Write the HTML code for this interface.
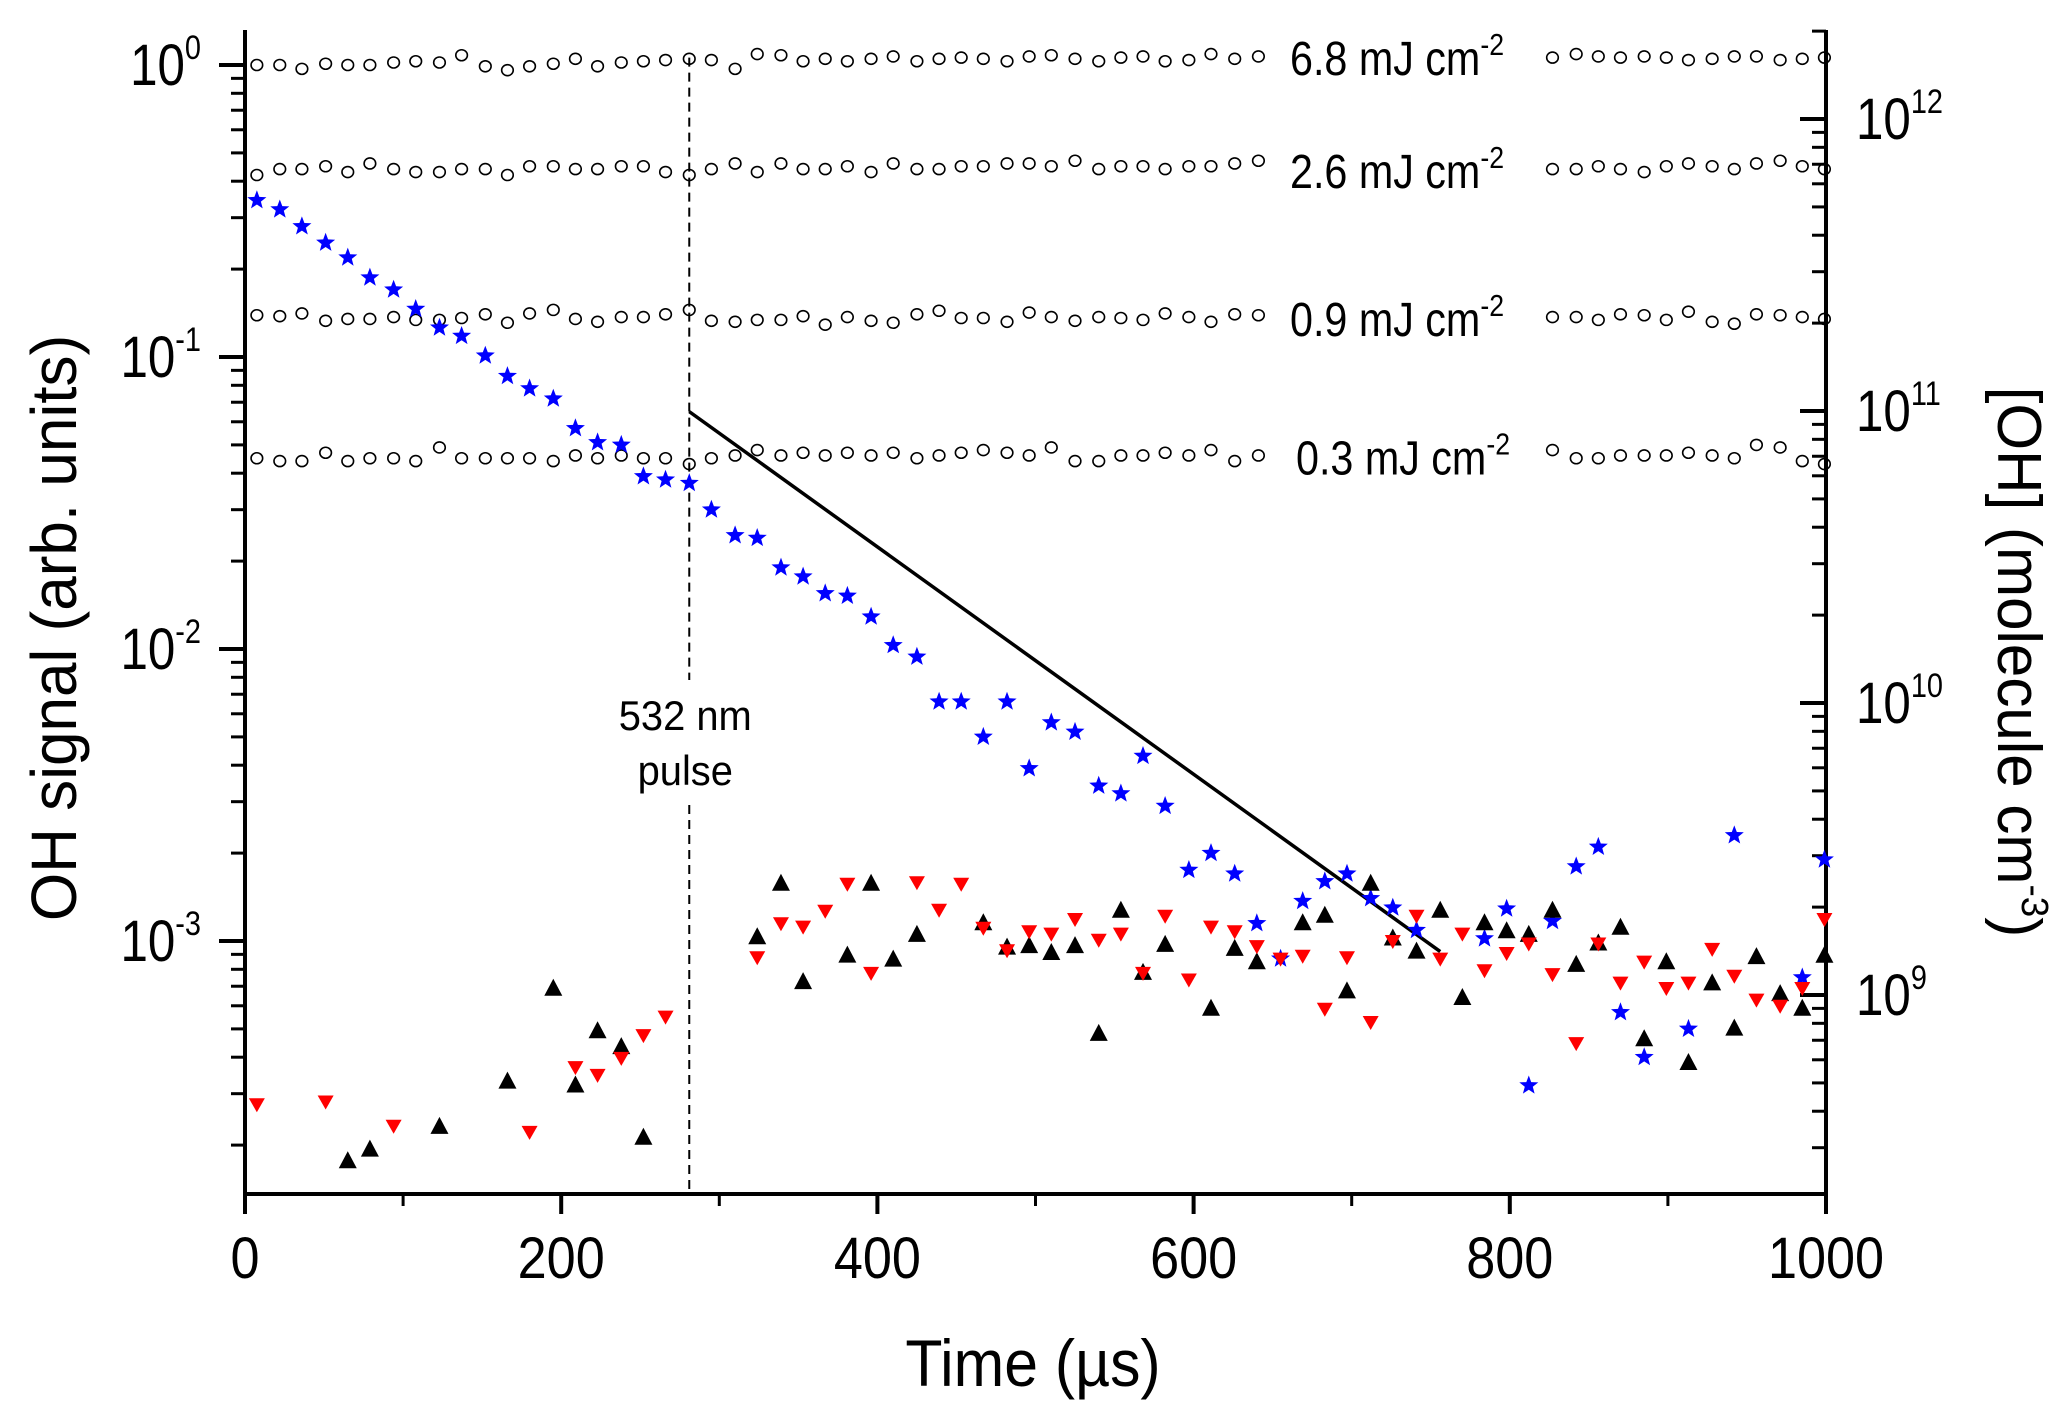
<!DOCTYPE html>
<html><head><meta charset="utf-8">
<style>
html,body{margin:0;padding:0;background:#fff;}
svg{display:block;font-family:"Liberation Sans",Arial,sans-serif;}
</style></head>
<body>
<svg id="chart" width="2067" height="1415" viewBox="0 0 2067 1415" xmlns="http://www.w3.org/2000/svg">
<g id="plot"></g>
</svg>
<script>
// ---- data ----
const xTicks = [0, 200, 400, 600, 800, 1000];
const xTickLabels = ["0", "200", "400", "600", "800", "1000"];
const leftDecades = [0, -1, -2, -3];
const rightDecades = [9, 10, 11, 12];
const rightOffset = 12.185; // log10 conversion factor between axes

const circleTimes = [7.5,22,36,51,65,79,94,108,123,137,152,166,180,195,209,223,238,252,266,281,295,310,324,339,353,367,381,396,410,425,439,453,467,482,496,510,525,540,554,568,582,597,611,626,641,827,842,856,870,885,899,913,928,942,956,971,985,999];
const pulse68 = [1.0,1.0,0.97,1.01,1.0,1.0,1.02,1.03,1.02,1.08,0.99,0.96,0.99,1.01,1.05,0.99,1.02,1.03,1.04,1.05,1.04,0.97,1.09,1.08,1.03,1.05,1.03,1.05,1.07,1.03,1.05,1.06,1.05,1.03,1.07,1.08,1.05,1.03,1.06,1.07,1.03,1.04,1.09,1.05,1.07,1.06,1.09,1.07,1.06,1.07,1.06,1.04,1.05,1.07,1.07,1.04,1.05,1.06];
const pulse26 = [0.42,0.44,0.44,0.45,0.43,0.46,0.44,0.43,0.43,0.44,0.44,0.42,0.45,0.45,0.44,0.44,0.45,0.45,0.43,0.42,0.44,0.46,0.43,0.46,0.44,0.44,0.45,0.43,0.46,0.44,0.44,0.45,0.45,0.46,0.46,0.45,0.47,0.44,0.45,0.45,0.44,0.45,0.45,0.46,0.47,0.44,0.44,0.45,0.44,0.43,0.45,0.46,0.45,0.44,0.46,0.47,0.45,0.44];
const pulse09 = [0.139,0.138,0.141,0.133,0.135,0.135,0.137,0.134,0.134,0.136,0.140,0.131,0.141,0.145,0.135,0.132,0.137,0.137,0.140,0.145,0.133,0.132,0.134,0.134,0.138,0.129,0.137,0.133,0.131,0.140,0.144,0.136,0.136,0.132,0.142,0.137,0.133,0.137,0.136,0.134,0.141,0.137,0.132,0.140,0.139,0.137,0.137,0.134,0.140,0.139,0.134,0.143,0.132,0.130,0.140,0.139,0.137,0.135];
const pulse03 = [0.045,0.044,0.044,0.047,0.044,0.045,0.045,0.044,0.049,0.045,0.045,0.045,0.045,0.044,0.046,0.045,0.046,0.045,0.045,0.043,0.045,0.046,0.048,0.046,0.047,0.046,0.047,0.046,0.047,0.045,0.046,0.047,0.048,0.047,0.046,0.049,0.044,0.044,0.046,0.046,0.047,0.046,0.048,0.044,0.046,0.048,0.045,0.045,0.046,0.046,0.046,0.047,0.046,0.045,0.050,0.049,0.044,0.043];

const starTimes = [7.5,22,36,51,65,79,94,108,123,137,152,166,180,195,209,223,238,252,266,281,295,310,324,339,353,367,381,396,410,425,439,453,467,482,496,510,525,540,554,568,582,597,611,626,640,655,669,683,697,712,726,741,784,798,812,827,842,856,870,885,913,942,985,999];
const starValues = [0.344,0.32,0.28,0.246,0.219,0.187,0.17,0.146,0.126,0.118,0.101,0.086,0.078,0.072,0.057,0.051,0.05,0.039,0.038,0.037,0.030,0.0245,0.024,0.019,0.0177,0.0155,0.0152,0.0129,0.0103,0.0094,0.0066,0.0066,0.005,0.0066,0.0039,0.0056,0.0052,0.0034,0.0032,0.0043,0.0029,0.00175,0.0020,0.0017,0.00115,0.00087,0.00137,0.0016,0.0017,0.0014,0.0013,0.00109,0.00102,0.00129,0.00032,0.00117,0.0018,0.0021,0.00057,0.0004,0.0005,0.0023,0.00075,0.0019];

const upTimes = [65,79,123,166,195,209,223,238,252,324,339,353,381,396,410,425,467,482,496,510,525,540,554,568,582,611,626,640,669,683,697,712,726,741,756,770,784,798,812,827,842,856,870,885,899,913,928,942,956,971,985,999];
const upValues = [1.76e-4,1.93e-4,2.31e-4,3.30e-4,6.86e-4,3.20e-4,4.91e-4,4.33e-4,2.12e-4,1.03e-3,1.57e-3,7.23e-4,8.91e-4,1.57e-3,8.63e-4,1.05e-3,1.15e-3,9.49e-4,9.6e-4,9.1e-4,9.6e-4,4.81e-4,1.27e-3,7.78e-4,9.7e-4,5.86e-4,9.4e-4,8.46e-4,1.15e-3,1.22e-3,6.72e-4,1.57e-3,1.02e-3,9.2e-4,1.27e-3,6.38e-4,1.15e-3,1.08e-3,1.05e-3,1.27e-3,8.28e-4,9.8e-4,1.11e-3,4.61e-4,8.46e-4,3.82e-4,7.16e-4,5.01e-4,8.81e-4,6.58e-4,5.86e-4,8.9e-4];

const downTimes = [7.5,51,94,180,209,223,238,252,266,324,339,353,367,381,396,425,439,453,467,482,496,510,525,540,554,568,582,597,611,626,640,655,669,683,697,712,726,741,756,770,784,798,812,827,842,856,870,885,899,913,928,942,956,971,985,999];
const downValues = [2.76e-4,2.82e-4,2.33e-4,2.22e-4,3.70e-4,3.48e-4,3.98e-4,4.76e-4,5.51e-4,8.8e-4,1.15e-3,1.12e-3,1.27e-3,1.57e-3,7.78e-4,1.59e-3,1.28e-3,1.57e-3,1.11e-3,9.3e-4,1.08e-3,1.06e-3,1.19e-3,1.01e-3,1.06e-3,7.78e-4,1.22e-3,7.38e-4,1.12e-3,1.08e-3,9.6e-4,8.7e-4,8.9e-4,5.86e-4,8.8e-4,5.28e-4,1.0e-3,1.22e-3,8.7e-4,1.06e-3,7.94e-4,9.1e-4,9.8e-4,7.7e-4,4.47e-4,9.8e-4,7.2e-4,8.5e-4,6.9e-4,7.2e-4,9.4e-4,7.6e-4,6.3e-4,6.0e-4,6.9e-4,1.19e-3];

const fitTimes = [281, 756];
const fitValues = [0.065, 0.00092];
const pulseTime = 281;
const energyLabels = ["6.8", "2.6", "0.9", "0.3"];
const energyLevels = [1.0, 0.44, 0.137, 0.046];

// ---- scales ----
const X0 = 245, X1 = 1826, Y0 = 1194, YTOP = 30;
const xs = t => X0 + (t / 1000) * (X1 - X0);
const ys = v => 65 - 292 * Math.log10(v);
const ysR = v => 65 - 292 * (Math.log10(v) - rightOffset);

const NS = "http://www.w3.org/2000/svg";
const plot = document.getElementById("plot");
function mk(tag, attrs, parent) {
  const e = document.createElementNS(NS, tag);
  for (const k in attrs) e.setAttribute(k, attrs[k]);
  (parent || plot).appendChild(e);
  return e;
}
function txt(x, y, anchor, size, sx, html, rot) {
  const tr = "translate(" + x + "," + y + ")" + (rot ? " rotate(" + rot + ")" : "") + " scale(" + sx + ",1)";
  const e = mk("text", {x: 0, y: 0, "text-anchor": anchor, "font-size": size, transform: tr});
  e.innerHTML = html;
  return e;
}

// axes
let a;
a = mk("line", {x1: X0, y1: YTOP, x2: X0, y2: Y0 + 2, stroke: "#000", "stroke-width": 4});


a = mk("line", {x1: X1, y1: YTOP, x2: X1, y2: Y0 + 2, stroke: "#000", "stroke-width": 4});


a = mk("line", {x1: X0 - 2, y1: Y0, x2: X1 + 2, y2: Y0, stroke: "#000", "stroke-width": 4});



// x ticks
xTicks.forEach((t, i) => {
  const tk = mk("line", {x1: xs(t), y1: Y0, x2: xs(t), y2: Y0 + 20, stroke: "#000", "stroke-width": 4});
  
  
  const lb = txt(xs(t), Y0 + 84, "middle", 58, 0.9, xTickLabels[i]);
  
  
  if (i < xTicks.length - 1) {
    const mt = mk("line", {x1: xs(t + 100), y1: Y0, x2: xs(t + 100), y2: Y0 + 12, stroke: "#000", "stroke-width": 3});
    
    
  }
});

// left ticks
for (let d = -4; d <= 0; d++) {
  for (let m = 1; m <= 9; m++) {
    const v = m * Math.pow(10, d);
    const y = ys(v);
    if (y > Y0 || y < YTOP) continue;
    const major = m === 1;
    const tk = mk("line", {x1: X0 - (major ? 26 : 14), y1: y, x2: X0, y2: y, stroke: "#000", "stroke-width": major ? 4 : 3});
    
    
  }
}
leftDecades.forEach(d => {
  const lb = txt(X0 - 44, ys(Math.pow(10, d)) + 20, "end", 58, 0.85, '10<tspan dy="-26" font-size="34">' + d + '</tspan>');
  
  
});

// right ticks
for (let d = 8; d <= 12; d++) {
  for (let m = 1; m <= 9; m++) {
    const v = m * Math.pow(10, d);
    const y = ysR(v);
    if (y > Y0 || y < YTOP) continue;
    const major = m === 1;
    const tk = mk("line", {x1: X1 - (major ? 26 : 14), y1: y, x2: X1, y2: y, stroke: "#000", "stroke-width": major ? 4 : 3});
    
    
  }
}
rightDecades.forEach(d => {
  const lb = txt(X1 + 30, ysR(Math.pow(10, d)) + 20, "start", 58, 0.85, '10<tspan dy="-26" font-size="34">' + d + '</tspan>');
  
  
});

// pulse dashed line
const px = xs(pulseTime);
let dl = mk("line", {x1: px, y1: ys(1.06), x2: px, y2: 680, stroke: "#000", "stroke-width": 2, "stroke-dasharray": "9,6"});


dl = mk("line", {x1: px, y1: 805, x2: px, y2: Y0, stroke: "#000", "stroke-width": 2, "stroke-dasharray": "9,6"});


let pt = txt(px - 4, 730, "middle", 42, 0.95, "532 nm");


pt = txt(px - 4, 785, "middle", 42, 0.95, "pulse");



// circle series
[pulse68, pulse26, pulse09, pulse03].forEach((series, si) => {
  series.forEach((v, i) => {
    const c = mk("ellipse", {cx: xs(circleTimes[i]), cy: ys(v), rx: 5.8, ry: 5.5, fill: "none", stroke: "#000", "stroke-width": 1.6});
    
    
  });
  const lb = txt(si === 3 ? 1296 : 1290, ys(energyLevels[si]) + (si === 0 ? 10 : 19), "start", 48, 0.86, energyLabels[si] + ' mJ cm<tspan dy="-20" font-size="31">-2</tspan>');
  
  
});

// fit line
const fl = mk("line", {x1: xs(fitTimes[0]), y1: ys(fitValues[0]), x2: xs(fitTimes[1]), y2: ys(fitValues[1]), stroke: "#000", "stroke-width": 3.5});



// stars
function starPath(cx, cy, R) {
  const r = R * 0.42; let d = "";
  for (let k = 0; k < 10; k++) {
    const ang = -Math.PI / 2 + k * Math.PI / 5;
    const rr = k % 2 ? r : R;
    d += (k ? "L" : "M") + (cx + rr * Math.cos(ang)).toFixed(1) + "," + (cy + rr * Math.sin(ang)).toFixed(1);
  }
  return d + "Z";
}
starValues.forEach((v, i) => {
  const s = mk("path", {d: starPath(xs(starTimes[i]), ys(v), 10), fill: "#0000ff"});
  
  
});
// triangles up (black)
upValues.forEach((v, i) => {
  const x = xs(upTimes[i]), y = ys(v);
  const s = mk("path", {d: `M${x},${y - 10}L${x + 9},${y + 7}L${x - 9},${y + 7}Z`, fill: "#000"});
  
  
});
// triangles down (red)
downValues.forEach((v, i) => {
  const x = xs(downTimes[i]), y = ys(v);
  const s = mk("path", {d: `M${x - 8},${y - 6}L${x + 8},${y - 6}L${x},${y + 8}Z`, fill: "#ff0000"});
  
  
});

// axis titles
let t = txt(76, 628, "middle", 64, 0.97, "OH signal (arb. units)", -90);


t = txt(1033, 1386, "middle", 66, 0.92, "Time (\u00b5s)");


t = txt(1998, 662, "middle", 62, 0.97, '[OH] (molecule cm<tspan dy="-24" font-size="38">-3</tspan><tspan dy="24">)</tspan>', 90);


</script>
</body></html>
